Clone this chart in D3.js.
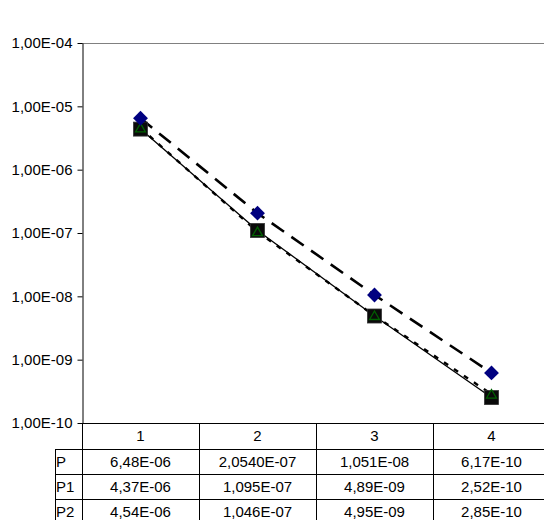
<!DOCTYPE html>
<html>
<head>
<meta charset="utf-8">
<script src="https://cdn.jsdelivr.net/npm/d3@7"></script>
<style>
  html, body { margin: 0; padding: 0; background: #fff; }
  svg { display: block; }
</style>
</head>
<body>
<script>
// Measurement points and the three series
const categories = ["1", "2", "3", "4"];
const seriesNames = ["P", "P1", "P2"];
const valuesP  = [6.48e-6, 2.054e-7, 1.051e-8, 6.17e-10];
const valuesP1 = [4.37e-6, 1.095e-7, 4.89e-9, 2.52e-10];
const valuesP2 = [4.54e-6, 1.046e-7, 4.95e-9, 2.85e-10];
// Table cell text as printed
const labelsP  = ["6,48E-06", "2,0540E-07", "1,051E-08", "6,17E-10"];
const labelsP1 = ["4,37E-06", "1,095E-07", "4,89E-09", "2,52E-10"];
const labelsP2 = ["4,54E-06", "1,046E-07", "4,95E-09", "2,85E-10"];
const yTickValues = [1e-4, 1e-5, 1e-6, 1e-7, 1e-8, 1e-9, 1e-10];
const yTickLabels = ["1,00E-04", "1,00E-05", "1,00E-06", "1,00E-07", "1,00E-08", "1,00E-09", "1,00E-10"];

const W = 544, H = 520;
const plotLeft = 82, plotRight = 550, plotTop = 43, plotBottom = 423;
const rowH = 25, headerH = 26, labelColLeft = 55;
const FONT = "Liberation Sans, Arial, sans-serif";
const FS = "15px";

const svg = d3.select("body").append("svg").attr("width", W).attr("height", H);

const x = d3.scaleBand().domain(categories).range([plotLeft, plotRight]);
const y = d3.scaleLog().domain([1e-10, 1e-4]).range([plotBottom, plotTop]);

// Top border of plot area
svg.append("line")
  .attr("x1", plotLeft).attr("x2", W).attr("y1", plotTop + 0.5).attr("y2", plotTop + 0.5)
  .attr("stroke", "#808080").attr("stroke-width", 1.2);

// Y axis
const yAxis = d3.axisLeft(y)
  .tickValues(yTickValues)
  .tickFormat((d, i) => yTickLabels[i])
  .tickSize(5).tickSizeOuter(0).tickPadding(5);
const gy = svg.append("g").attr("transform", `translate(${plotLeft + 0.5},0)`).call(yAxis);
gy.select(".domain").attr("stroke", "#000");
gy.selectAll(".tick line").attr("stroke", "#000");
gy.selectAll(".tick text")
  .style("font-family", FONT).style("font-size", FS).attr("fill", "#000");

// Lines
const series = [
  { name: "P2", values: valuesP2, dash: "5,7", width: 2.4 },
  { name: "P1", values: valuesP1, dash: null, width: 1.3 },
  { name: "P",  values: valuesP,  dash: "15,9", width: 2.6 }
];
const line = d3.line()
  .x((d, i) => x(categories[i]) + x.bandwidth() / 2)
  .y(d => y(d));
series.forEach(s => {
  svg.append("path")
    .datum(s.values)
    .attr("d", line)
    .attr("fill", "none")
    .attr("stroke", "#000")
    .attr("stroke-width", s.width)
    .attr("stroke-dasharray", s.dash);
});

const cx = (i) => x(categories[i]) + x.bandwidth() / 2;

// P1 markers: black squares
svg.selectAll("rect.p1").data(valuesP1).enter().append("rect")
  .attr("x", (d, i) => cx(i) - 7).attr("y", d => y(d) - 7)
  .attr("width", 14).attr("height", 14)
  .attr("fill", "#0a0a0a").attr("stroke", "#333").attr("stroke-width", 0.8);

// P2 markers: dark green open triangles
const tri = d3.symbol().type(d3.symbolTriangle).size(42);
svg.selectAll("path.p2").data(valuesP2).enter().append("path")
  .attr("d", tri)
  .attr("transform", (d, i) => `translate(${cx(i)},${y(d) + 1})`)
  .attr("fill", "none").attr("stroke", "#006000").attr("stroke-width", 1.3);

// P markers: navy diamonds
svg.selectAll("path.p").data(valuesP).enter().append("path")
  .attr("d", d3.symbol().type(d3.symbolSquare).size(110))
  .attr("transform", (d, i) => `translate(${cx(i)},${y(d)}) rotate(45)`)
  .attr("fill", "#000080");

// Data table under the plot
const tg = svg.append("g");
const tableRows = [labelsP, labelsP1, labelsP2];
const tableBottom = plotBottom + headerH + rowH * tableRows.length;
const hline = (yy, x1) => tg.append("line").attr("x1", x1).attr("x2", W)
  .attr("y1", yy).attr("y2", yy).attr("stroke", "#000").attr("stroke-width", 1);

hline(plotBottom + 0.5, plotLeft);
for (let r = 0; r <= tableRows.length; r++) {
  hline(plotBottom + headerH + r * rowH + 0.5, labelColLeft);
}
// vertical lines
const vline = (xx, y1, y2) => tg.append("line").attr("x1", xx).attr("x2", xx)
  .attr("y1", y1).attr("y2", y2).attr("stroke", "#000").attr("stroke-width", 1);
vline(plotLeft + 0.5, plotBottom, tableBottom);
categories.forEach((c, i) => {
  if (i > 0) vline(Math.round(x(c)) + 0.5, plotBottom, tableBottom);
});
vline(labelColLeft + 0.5, plotBottom + headerH, tableBottom);

const addText = (xx, yy, t, anchor) => tg.append("text")
  .attr("x", xx).attr("y", yy).attr("text-anchor", anchor)
  .style("font-family", FONT).style("font-size", FS).attr("fill", "#000")
  .text(t);

// header
categories.forEach((c, i) => addText(cx(i), plotBottom + headerH / 2 + 5, c, "middle"));

tableRows.forEach((row, r) => {
  const yy = plotBottom + headerH + r * rowH + rowH / 2 + 5;
  addText(labelColLeft + 1, yy, seriesNames[r], "start");
  row.forEach((t, i) => addText(cx(i), yy, t, "middle"));
});
</script>
</body>
</html>
